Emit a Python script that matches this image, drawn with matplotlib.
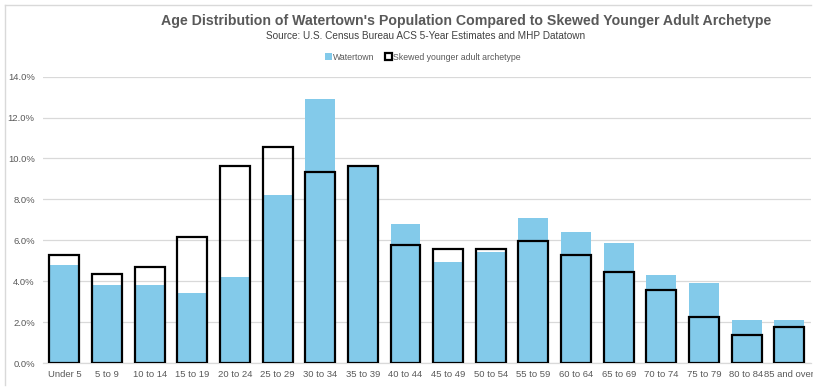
import numpy as np
import matplotlib
matplotlib.use("Agg")
import matplotlib.pyplot as plt
from matplotlib.lines import Line2D
from matplotlib.patches import Patch
from matplotlib.ticker import FuncFormatter

plt.rcParams['font.family'] = ['Liberation Sans', 'DejaVu Sans']

# Data (percent of population)
age_groups = ["Under 5", "5 to 9", "10 to 14", "15 to 19", "20 to 24", "25 to 29",
              "30 to 34", "35 to 39", "40 to 44", "45 to 49", "50 to 54", "55 to 59",
              "60 to 64", "65 to 69", "70 to 74", "75 to 79", "80 to 84", "85 and over"]
watertown = [4.80, 3.80, 3.80, 3.40, 4.20, 8.20, 12.90, 9.65, 6.80, 4.92, 5.42, 7.11,
             6.41, 5.89, 4.31, 3.91, 2.12, 2.12]
archetype = [5.26, 4.35, 4.67, 6.14, 9.65, 10.55, 9.36, 9.65, 5.78, 5.55, 5.55, 5.96,
             5.26, 4.46, 3.58, 2.26, 1.37, 1.77]

blue = '#83CAEA'
gray_text = '#595959'

fig = plt.figure(figsize=(8.13, 3.87), dpi=100)
ax = fig.add_axes([0.053, 0.062, 0.944, 0.74])

x = np.arange(len(age_groups))
width = 0.70

# Watertown filled bars
ax.bar(x, watertown, width=width, color=blue, zorder=2)
# Archetype outlined bars
ax.bar(x, archetype, width=width, facecolor='none', edgecolor='black',
       linewidth=1.6, zorder=3)

ax.set_xlim(-0.5, len(age_groups) - 0.5)
ax.set_ylim(0, 14)
ax.set_yticks(np.arange(0, 14.1, 2))
ax.yaxis.set_major_formatter(FuncFormatter(lambda v, p: f"{v:.1f}%"))
ax.set_xticks(x)
ax.set_xticklabels(age_groups)

ax.grid(axis='y', color='#d9d9d9', linewidth=0.9, zorder=0)
ax.set_axisbelow(True)
for side in ['top', 'right', 'left']:
    ax.spines[side].set_visible(False)
ax.spines['bottom'].set_color('#d9d9d9')
ax.spines['bottom'].set_linewidth(0.9)
ax.tick_params(axis='both', length=0, labelsize=6.8, colors=gray_text, pad=5)
ax.tick_params(axis='y', pad=6)

# Titles
fig.text(0.573, 0.945, "Age Distribution of Watertown's Population Compared to Skewed Younger Adult Archetype",
         ha='center', va='center', fontsize=10.2, fontweight='bold', color=gray_text)
fig.text(0.523, 0.907, "Source: U.S. Census Bureau ACS 5-Year Estimates and MHP Datatown",
         ha='center', va='center', fontsize=7.2, color='#404040')

# Legend
handles = [Patch(facecolor=blue, edgecolor='none', label='Watertown'),
           Patch(facecolor='white', edgecolor='black', linewidth=1.6,
                 label='Skewed younger adult archetype')]
fig.legend(handles=handles, loc='center', bbox_to_anchor=(0.52, 0.852), ncol=2,
           frameon=False, fontsize=6.3, handlelength=0.8, handleheight=0.8,
           handletextpad=0.1, columnspacing=1.2, labelcolor=gray_text)

# Chart frame (left and top edges)
fig.add_artist(Line2D([0.006, 0.006], [0.005, 0.988], color='#d9d9d9', linewidth=1,
                      transform=fig.transFigure))
fig.add_artist(Line2D([0.006, 0.998], [0.988, 0.988], color='#d9d9d9', linewidth=1,
                      transform=fig.transFigure))

fig.savefig("out.png", dpi=100, facecolor='white')
